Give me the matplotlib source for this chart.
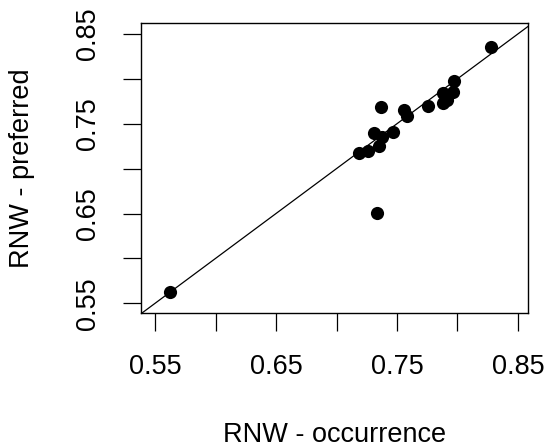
import matplotlib.pyplot as plt

plt.rcParams['font.family'] = ['Liberation Sans', 'DejaVu Sans']

# RNW scores
occurrence = [0.8277, 0.7974, 0.7965, 0.7883, 0.7910, 0.7880, 0.7754, 0.7368, 0.7560,
              0.7580, 0.7464, 0.7310, 0.7374, 0.7354, 0.7258, 0.7189, 0.7337, 0.5624]
preferred = [0.8357, 0.7979, 0.7856, 0.7838, 0.7764, 0.7727, 0.7697, 0.7683, 0.7652,
             0.7586, 0.7411, 0.7400, 0.7349, 0.7252, 0.7199, 0.7177, 0.6509, 0.5622]
ticks = [0.55, 0.60, 0.65, 0.70, 0.75, 0.80, 0.85]
tick_labels = ['0.55', '', '0.65', '', '0.75', '', '0.85']

fig = plt.figure(figsize=(5.47, 4.48), dpi=100)
ax = fig.add_axes([0.2578, 0.3007, 0.7075, 0.6473])

ax.scatter(occurrence, preferred, s=90, c='black', zorder=3, linewidths=0)
ax.set_xlim(0.5384, 0.8583)
ax.set_ylim(0.5389, 0.8618)
ax.plot([0, 1], [0, 1], color='black', lw=0.9, zorder=2)

ax.set_xticks(ticks)
ax.set_xticklabels(tick_labels)
ax.set_yticks(ticks)
ax.set_yticklabels(tick_labels, rotation=90, va='center')
ax.tick_params(direction='out', length=13, width=0.9, labelsize=19.5, pad=16)

for sp in ax.spines.values():
    sp.set_linewidth(1.0)

ax.set_xlabel('RNW - occurrence', fontsize=19.5, va='center')
ax.set_ylabel('RNW - preferred', fontsize=19.5, va='center')
ax.xaxis.set_label_coords(0.5, -0.42)
ax.yaxis.set_label_coords(-0.308, 0.5)

fig.savefig('out.png', dpi=100)
